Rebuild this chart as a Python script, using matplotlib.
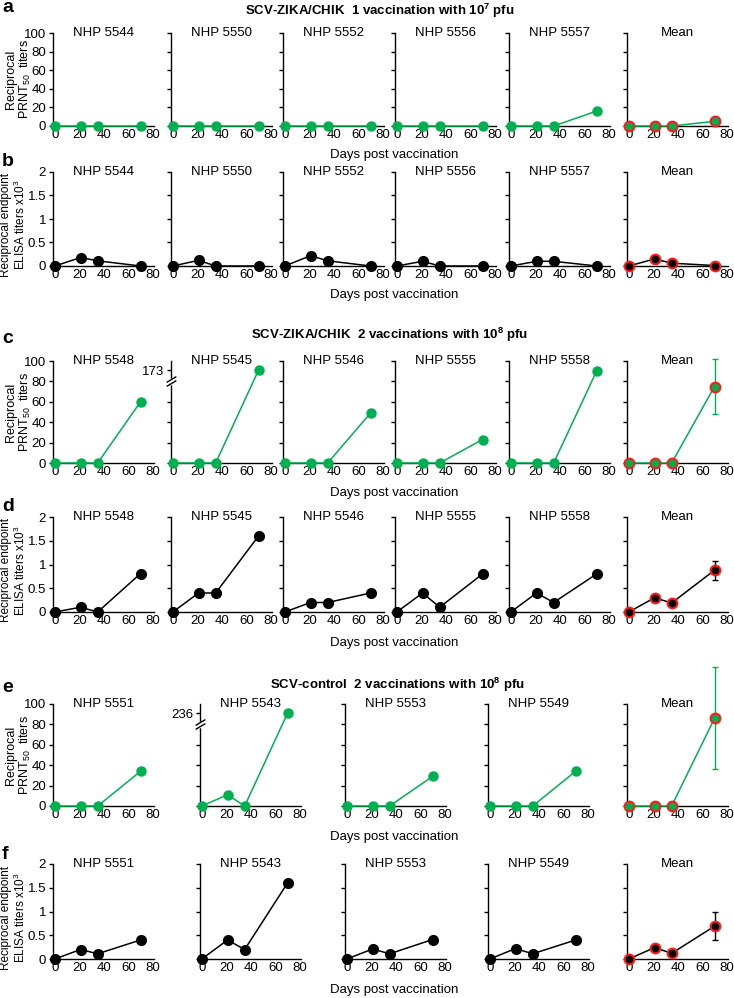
import matplotlib.pyplot as plt

plt.rcParams['font.family'] = ['Liberation Sans', 'DejaVu Sans']
plt.rcParams['font.size'] = 9.5
plt.rcParams['mathtext.fontset'] = 'custom'
plt.rcParams['mathtext.rm'] = 'Liberation Sans'
plt.rcParams['mathtext.bf'] = 'Liberation Sans:bold'
plt.rcParams['mathtext.default'] = 'regular'

##### data
days = [0, 21, 35, 70]

# a / b : SCV-ZIKA/CHIK, 1 vaccination with 10^7 pfu
ids_ab = ['NHP 5544', 'NHP 5550', 'NHP 5552', 'NHP 5556', 'NHP 5557']
prnt_a = [[0, 0, 0, 0], [0, 0, 0, 0], [0, 0, 0, 0], [0, 0, 0, 0], [0, 0, 0, 16]]
prnt_a_mean = [0, 0, 0, 5]
prnt_a_err = [0, 0, 0, 5]
elisa_b = [[0, 0.18, 0.11, 0], [0, 0.12, 0, 0], [0, 0.22, 0.11, 0], [0, 0.1, 0, 0], [0, 0.1, 0.1, 0]]
elisa_b_mean = [0, 0.15, 0.06, 0.01]
elisa_b_err = [0, 0.01, 0.01, 0]

# c / d : SCV-ZIKA/CHIK, 2 vaccinations with 10^8 pfu
ids_cd = ['NHP 5548', 'NHP 5545', 'NHP 5546', 'NHP 5555', 'NHP 5558']
prnt_c = [[0, 0, 0, 60], [0, 0, 0, 173], [0, 0, 0, 49], [0, 0, 0, 23], [0, 0, 0, 90]]
prnt_c_mean = [0, 0, 0, 75]
prnt_c_err = [0, 0, 0, 27]
elisa_d = [[0, 0.1, 0, 0.81], [0, 0.4, 0.4, 1.6], [0, 0.2, 0.2, 0.4], [0, 0.4, 0.1, 0.8], [0, 0.4, 0.2, 0.8]]
elisa_d_mean = [0, 0.3, 0.19, 0.88]
elisa_d_err = [0, 0.04, 0.02, 0.2]

# e / f : SCV-control, 2 vaccinations with 10^8 pfu
ids_ef = ['NHP 5551', 'NHP 5543', 'NHP 5553', 'NHP 5549']
prnt_e = [[0, 0, 0, 34], [0, 11, 0, 236], [0, 0, 0, 29], [0, 0, 0, 34]]
prnt_e_mean = [0, 0, 0, 86]
prnt_e_err = [0, 0, 0, 50]
elisa_f = [[0, 0.2, 0.11, 0.4], [0, 0.4, 0.2, 1.6], [0, 0.21, 0.11, 0.41], [0, 0.22, 0.11, 0.4]]
elisa_f_mean = [0, 0.24, 0.12, 0.69]
elisa_f_err = [0, 0.03, 0, 0.3]

##### style
GREEN = '#00b050'
RED = '#ff1a1a'
W, H = 734, 998
BREAK_AT = 80     # where the // mark sits on broken axes
TOP_POS = 91      # where values above 100 get drawn

fig = plt.figure(figsize=(W / 100, H / 100), dpi=100)


def px_text(x, y, s, **kw):
    fig.text(x / W, 1 - y / H, s, **kw)


def make_ax(x0, ytop, ybot, width=101):
    return fig.add_axes([x0 / W, 1 - ybot / H, width / W, (ybot - ytop) / H])


def style_ax(ax, ymax, yticks, first):
    ax.set_xlim(-1.5, 81)
    ax.set_ylim(0, ymax)
    ax.spines['top'].set_visible(False)
    ax.spines['right'].set_visible(False)
    ax.spines['left'].set_linewidth(1)
    ax.spines['bottom'].set_linewidth(1)
    ax.set_xticks([0, 20, 40, 60, 80])
    ax.tick_params(axis='x', length=0, pad=2, labelsize=9.5)
    ax.tick_params(axis='y', length=3, width=1, pad=2, labelsize=9.5)
    ax.set_yticks(yticks)
    if first:
        ax.set_yticklabels(['%g' % t for t in yticks])
    else:
        ax.set_yticklabels([])


def draw_break(ax, label):
    ax.set_yticks([0, 20, 40, 60, TOP_POS])
    ax.set_yticklabels(['', '', '', '', label])
    tr = ax.get_yaxis_transform()
    ax.plot([0, 0], [BREAK_AT - 1.5, BREAK_AT + 1.5], color='white', lw=2.5,
            transform=tr, clip_on=False, zorder=5)
    for yy in (BREAK_AT - 2, BREAK_AT + 2):
        ax.plot([0], [yy], transform=tr, marker=[(-1, -0.6), (1, 0.6)], ms=7,
                ls='none', mec='k', mew=1, clip_on=False, zorder=6)


def draw_row(lefts, ytop, ybot, ids, series, mean, err, kind):
    color = GREEN if kind == 'prnt' else 'k'
    if kind == 'prnt':
        ymax, yticks = 100, [0, 20, 40, 60, 80, 100]
    else:
        ymax, yticks = 2, [0, 0.5, 1, 1.5, 2]
    names = ids + ['Mean']
    for i, x0 in enumerate(lefts):
        ax = make_ax(x0, ytop, ybot)
        style_ax(ax, ymax, yticks, i == 0)
        ax.text(0.5, 1.0, names[i], transform=ax.transAxes, ha='center', va='center',
                fontsize=9.5)
        if i < len(series):
            vals = series[i]
            shown = [v if v <= ymax else TOP_POS for v in vals]
            if max(vals) > ymax:
                draw_break(ax, '%d' % max(vals))
            ms = 6.5 if kind == 'prnt' else 7
            ax.plot(days, shown, '-o', color=color, lw=1.1, ms=ms, clip_on=False, zorder=3)
        else:
            cont = ax.errorbar(days, mean, yerr=err, fmt='none', ecolor=color,
                               elinewidth=1, capsize=2, capthick=1, zorder=2)
            for art in cont.get_children():
                art.set_clip_on(False)
            ax.plot(days, mean, '-o', color=color, lw=1.1, ms=7, mfc=color, mec=RED,
                    mew=1.5, clip_on=False, zorder=3)
    return ax


lefts6 = [53, 171, 283, 395, 509, 627]
lefts5 = [53, 200, 345, 488, 627]

# rows
draw_row(lefts6, 33, 126, ids_ab, prnt_a, prnt_a_mean, prnt_a_err, 'prnt')
draw_row(lefts6, 172, 266, ids_ab, elisa_b, elisa_b_mean, elisa_b_err, 'elisa')
draw_row(lefts6, 361, 463, ids_cd, prnt_c, prnt_c_mean, prnt_c_err, 'prnt')
draw_row(lefts6, 517, 612, ids_cd, elisa_d, elisa_d_mean, elisa_d_err, 'elisa')
draw_row(lefts5, 704, 806, ids_ef, prnt_e, prnt_e_mean, prnt_e_err, 'prnt')
draw_row(lefts5, 864, 959, ids_ef, elisa_f, elisa_f_mean, elisa_f_err, 'elisa')

# titles
px_text(380, 11, 'SCV-ZIKA/CHIK  1 vaccination with 10$^{\\mathbf{7}}$ pfu',
        ha='center', va='center', fontweight='bold', fontsize=9.5)
px_text(390, 335, 'SCV-ZIKA/CHIK  2 vaccinations with 10$^{\\mathbf{8}}$ pfu',
        ha='center', va='center', fontweight='bold', fontsize=9.5)
px_text(397, 685, 'SCV-control  2 vaccinations with 10$^{\\mathbf{8}}$ pfu',
        ha='center', va='center', fontweight='bold', fontsize=9.5)

# x labels
for y in [155, 295, 493, 643, 837, 990]:
    px_text(394, y, 'Days post vaccination', ha='center', va='center', fontsize=9.5)

# y labels
for (yt, yb) in [(33, 126), (361, 463), (704, 806)]:
    px_text(19, (yt + yb) / 2, 'Reciprocal\nPRNT$_{50}$  titers', rotation=90,
            ha='center', va='center', fontsize=9, linespacing=1.05)
for (yt, yb) in [(172, 266), (517, 612), (864, 959)]:
    px_text(14, (yt + yb) / 2 + 6, 'Reciprocal endpoint\nELISA titers x10$^3$', rotation=90,
            ha='center', va='center', fontsize=8.5, linespacing=1.1)

# panel letters
for lab, y in zip('abcdef', [12, 166, 343, 511, 692, 859]):
    px_text(2, y, lab, ha='left', va='baseline', fontsize=14, fontweight='bold')

fig.savefig('out.png', dpi=100)
